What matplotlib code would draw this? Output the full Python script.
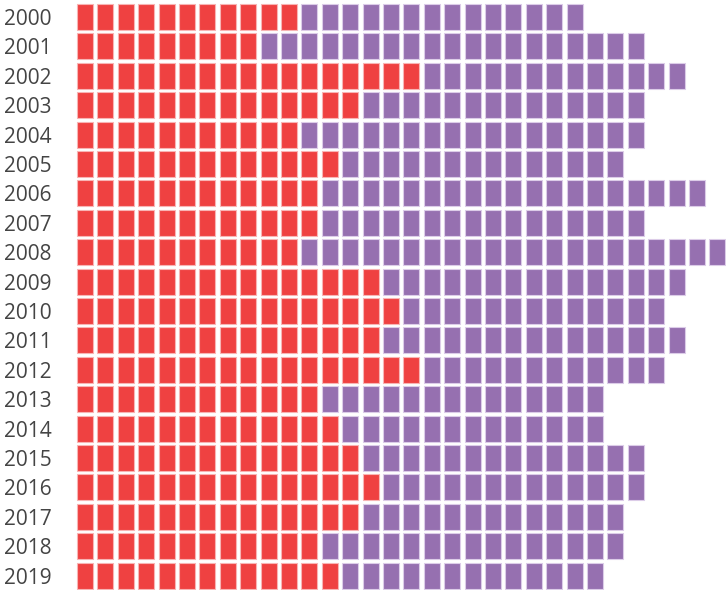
import numpy as np
import matplotlib.pyplot as plt

# Years and the count of red / purple cells per row
years = [str(y) for y in range(2000, 2020)]
red_counts = [11, 9, 17, 14, 11, 13, 12, 12, 11, 15,
              16, 15, 17, 12, 13, 14, 15, 14, 12, 13]
purple_counts = [14, 19, 13, 14, 17, 14, 19, 16, 21, 15,
                 13, 15, 12, 14, 13, 14, 13, 13, 15, 13]

red = '#EF4141'
purple = '#9670B0'
red_edge = '#F8B4B4'
purple_edge = '#DCCCE8'

plt.rcParams['font.family'] = ['Open Sans', 'DejaVu Sans']

fig = plt.figure(figsize=(7.26, 5.9), dpi=100)
ax = fig.add_axes([75 / 726, 0, 651 / 726, 1])

cell_w = 0.78
cell_h = 0.88

for i, (nr, npurp) in enumerate(zip(red_counts, purple_counts)):
    xr = np.arange(nr)
    xp = np.arange(nr, nr + npurp)
    ax.bar(xr, cell_h, width=cell_w, bottom=i - cell_h / 2,
           color=red, edgecolor=red_edge, linewidth=0.8)
    ax.bar(xp, cell_h, width=cell_w, bottom=i - cell_h / 2,
           color=purple, edgecolor=purple_edge, linewidth=0.8)

ax.set_xlim(-10 / 20.4, (726 - 85) / 20.4)
ax.set_ylim((590 - 17) / 29.4, -17 / 29.4)

ax.set_yticks(range(len(years)))
ax.set_yticklabels(years, fontsize=15, color='#444444')
ax.tick_params(axis='y', length=0, pad=17)
ax.set_xticks([])
for s in ax.spines.values():
    s.set_visible(False)

plt.savefig('out.png')
